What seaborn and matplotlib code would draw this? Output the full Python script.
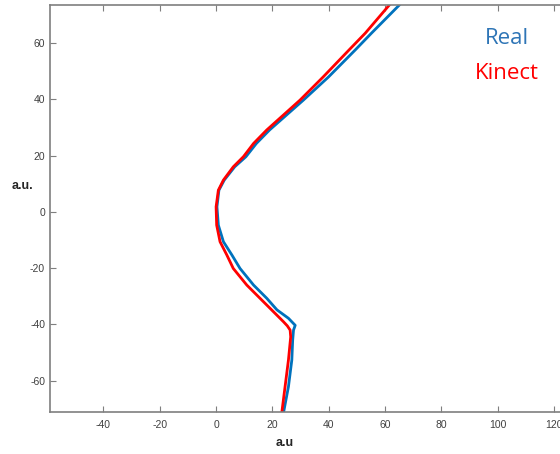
import matplotlib
matplotlib.use("Agg")
import matplotlib.pyplot as plt
import seaborn as sns
import pandas as pd

# Real (blue) curve
real_y = [-71.6, -62.1, -52.6, -45.6, -42.0, -40.3, -37.8, -34.8, -30.7, -26.0, -20.1, -15.3,
          -10.6, -4.7, 1.8, 7.7, 11.3, 16.0, 19.6, 24.3, 29.1, 34.4, 39.7, 47.9, 57.5, 63.5, 73.8]
real_x = [23.9, 25.7, 26.9, 27.2, 27.5, 28.1, 25.7, 21.6, 18.0, 13.3, 8.5, 5.6,
          2.6, 0.8, 0.3, 1.0, 2.9, 6.6, 10.6, 14.3, 19.0, 25.0, 31.0, 39.9, 49.4, 55.2, 65.4]

# Kinect (red) curve
kinect_y = [-71.6, -62.1, -52.6, -44.4, -42.0, -40.5, -39.0, -36.1, -30.7, -26.0, -20.1, -15.3,
            -10.6, -4.7, 1.8, 7.7, 11.3, 16.0, 19.6, 24.3, 29.1, 34.4, 39.7, 47.9, 57.5, 63.5, 73.8]
kinect_x = [23.3, 24.5, 25.7, 26.5, 26.3, 25.3, 23.9, 21.0, 15.6, 10.9, 6.1, 3.8,
            1.4, 0.2, 0.0, 0.8, 2.6, 6.1, 9.7, 13.3, 18.0, 23.9, 29.8, 38.0, 47.2, 53.0, 61.8]

x_ticks = [-40, -20, 0, 20, 40, 60, 80, 100, 120]
y_ticks = [-60, -40, -20, 0, 20, 40, 60]
series_names = ["Real", "Kinect"]

sns.set_theme(style="white")
plt.rcParams['font.family'] = ['Liberation Sans', 'DejaVu Sans']

real_df = pd.DataFrame({"x": real_x, "y": real_y})
kin_df = pd.DataFrame({"x": kinect_x, "y": kinect_y})

fig = plt.figure(figsize=(5.6, 4.54), dpi=100)
ax = fig.add_axes([50 / 560, 42 / 454, 518 / 560, 407.3 / 454])

blue = "#0072BD"
red = "#FF0000"
sns.lineplot(data=real_df, x="x", y="y", sort=False, estimator=None, ax=ax,
             color=blue, linewidth=2.0)
sns.lineplot(data=kin_df, x="x", y="y", sort=False, estimator=None, ax=ax,
             color=red, linewidth=2.0)

ax.set_xlim(-59, 125)
ax.set_ylim(-71.1, 73.6)
ax.set_xticks(x_ticks)
ax.set_yticks(y_ticks)
ax.set_xticklabels([str(v) for v in x_ticks])
ax.set_yticklabels([str(v) for v in y_ticks])
ax.set_xlabel("")
ax.set_ylabel("")
for s in ax.spines.values():
    s.set_visible(True)
    s.set_color("#7f7f7f")
    s.set_linewidth(1.2)
ax.tick_params(direction="in", length=4, width=0.8, colors="#7f7f7f",
               labelcolor="#404040", labelsize=7.5, top=True, right=True,
               bottom=True, left=True)
ax.tick_params(axis="x", pad=6)

fig.text(22 / 560, 1 - 186 / 454, "a.u.", ha="center", va="center",
         fontsize=9, fontweight="bold", color="#262626")
fig.text(285 / 560, 1 - 443 / 454, "a.u", ha="center", va="center",
         fontsize=9, fontweight="bold", color="#262626")

fig.text(507 / 560, 1 - 39 / 454, series_names[0], ha="center", va="center",
         fontsize=16, color="#2E75B6", family=["Open Sans", "DejaVu Sans"])
fig.text(507 / 560, 1 - 74 / 454, series_names[1], ha="center", va="center",
         fontsize=16, color=red, family=["Open Sans", "DejaVu Sans"])

fig.savefig("out.png", dpi=100)
